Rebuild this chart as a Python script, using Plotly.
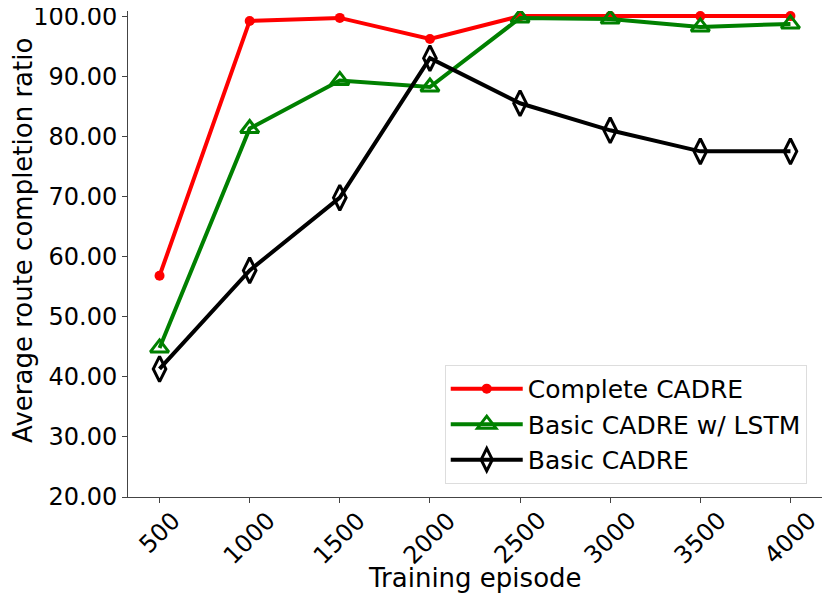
import plotly.graph_objects as go

episodes = [500, 1000, 1500, 2000, 2500, 3000, 3500, 4000]
complete_cadre = [56.8, 99.2, 99.7, 96.2, 100.0, 100.0, 100.0, 100.0]
basic_lstm = [44.8, 81.3, 89.3, 88.2, 99.7, 99.5, 98.2, 98.7]
basic_cadre = [41.3, 57.7, 69.8, 93.0, 85.5, 81.0, 77.5, 77.5]
y_ticks = [20, 30, 40, 50, 60, 70, 80, 90, 100]

FONT = "DejaVu Sans"

fig = go.Figure()
fig.add_trace(go.Scatter(x=episodes, y=complete_cadre, name="Complete CADRE",
                         mode="lines+markers",
                         line=dict(color="red", width=4),
                         marker=dict(symbol="circle", size=10, color="red")))
fig.add_trace(go.Scatter(x=episodes, y=basic_lstm, name="Basic CADRE w/ LSTM",
                         mode="lines+markers",
                         line=dict(color="green", width=4),
                         marker=dict(symbol="triangle-up-open", size=16, color="green",
                                     line=dict(width=3, color="green"))))
fig.add_trace(go.Scatter(x=episodes, y=basic_cadre, name="Basic CADRE",
                         mode="lines+markers",
                         line=dict(color="black", width=4),
                         marker=dict(symbol="diamond-tall-open", size=18, color="black",
                                     line=dict(width=3, color="black"))))

# the page body has an 8px margin, so the figure is 8px smaller than the window
fig.update_layout(
    width=822, height=592,
    margin=dict(l=120, r=8, t=3, b=103),
    plot_bgcolor="white", paper_bgcolor="white",
    font=dict(family=FONT, size=24, color="black"),
    legend=dict(x=0.978, y=0.027, xanchor="right", yanchor="bottom",
                bgcolor="white", bordercolor="#dddddd", borderwidth=1,
                font=dict(size=25), tracegroupgap=0, itemwidth=72),
    showlegend=True,
)
fig.update_xaxes(
    range=[325, 4175], tickvals=episodes, showticklabels=False, automargin=False,
    showgrid=False, zeroline=False, showline=True, linecolor="#444", linewidth=1,
    ticks="outside", ticklen=5, tickcolor="#444",
)
fig.update_yaxes(
    range=[20, 100.85], tickvals=y_ticks, tickformat=".2f", automargin=False,
    ticklabeloverflow="allow",
    showgrid=False, zeroline=False, showline=True, linecolor="#444", linewidth=1,
    ticks="outside", ticklen=5, tickcolor="#444",
)

# rotated x tick labels centred under their ticks, as matplotlib draws them
for e in episodes:
    fig.add_annotation(x=e, xref="x", y=0, yref="paper", text=str(e),
                       textangle=-45, showarrow=False, xanchor="center",
                       yanchor="top", yshift=-7, font=dict(size=24))

fig.add_annotation(x=0.5, xref="paper", y=0, yref="paper", text="Training episode",
                   showarrow=False, xanchor="center", yanchor="middle",
                   yshift=-81, font=dict(size=26))
fig.add_annotation(x=0, xref="paper", y=0.527, yref="paper",
                   text="Average route completion ratio", textangle=-90,
                   showarrow=False, xanchor="center", yanchor="middle",
                   xshift=-105, font=dict(size=26))

fig.write_html("out.html")
